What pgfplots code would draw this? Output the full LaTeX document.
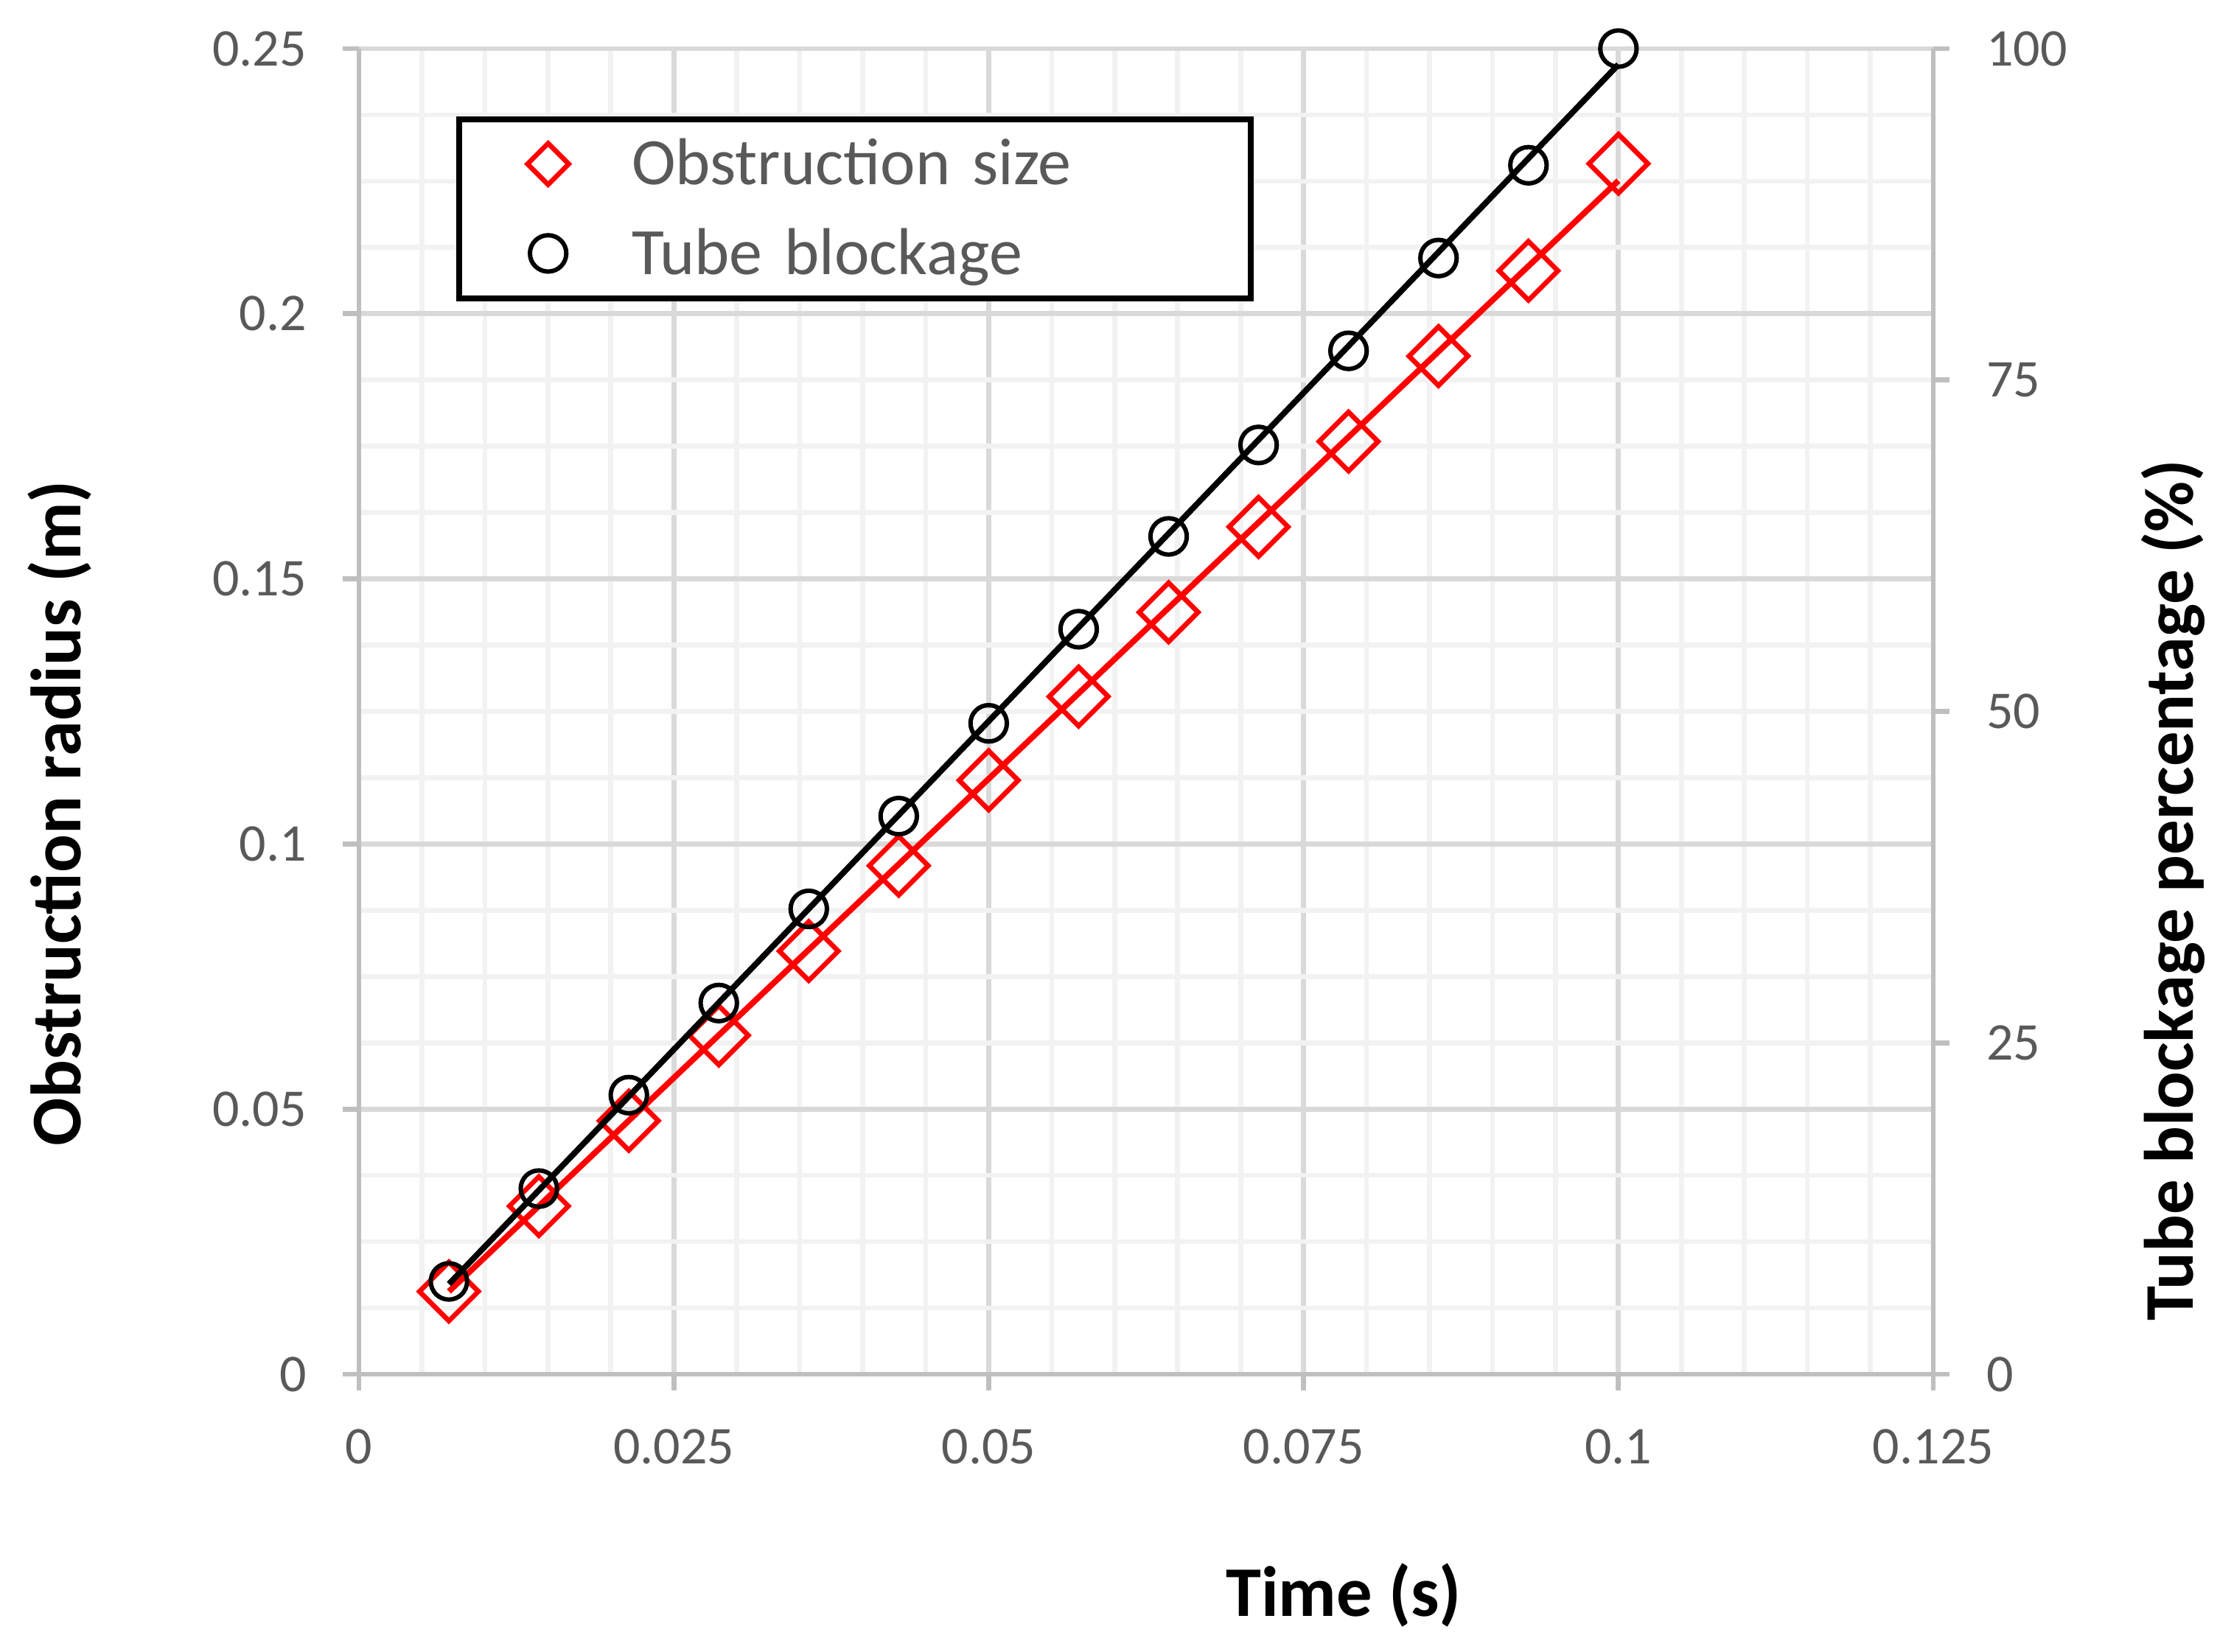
\documentclass[border=0pt]{standalone}
\usepackage{pgfplots}
\pgfplotsset{compat=1.18}
\usepackage{fontspec}
\setmainfont{Carlito}
\definecolor{tickgray}{HTML}{595959}
\definecolor{axisgray}{HTML}{BFBFBF}
\definecolor{majgrid}{HTML}{D9D9D9}
\definecolor{mingrid}{HTML}{F2F2F2}
\pgfplotsset{
  myleg/.style={legend image code/.code={\path (0pt,-8.5pt) (33.9pt,8.5pt); \draw[##1] plot coordinates {(17.5pt,0pt)};}},
}
\begin{document}
\begin{tikzpicture}
\useasboundingbox (0,0) rectangle (454.65pt,336.3pt);
\begin{axis}[
  at={(73.05pt,56.55pt)}, anchor=south west,
  scale only axis, width=320.4pt, height=269.85pt,
  xmin=0, xmax=0.125, ymin=0, ymax=0.25,
  axis x line*=bottom, axis y line*=left,
  axis line style={-, draw=axisgray, line width=1pt},
  xtick={0,0.025,0.05,0.075,0.1,0.125},
  xticklabels={0,0.025,0.05,0.075,0.1,0.125},
  ytick={0,0.05,0.1,0.15,0.2,0.25},
  yticklabels={0,0.05,0.1,0.15,0.2,0.25},
  minor x tick num=4, minor y tick num=3,
  grid=both,
  major grid style={draw=majgrid, line width=1pt},
  minor grid style={draw=mingrid, line width=1pt},
  tick align=outside,
  major tick length=3.3pt, minor tick length=0pt,
  tick style={draw=axisgray, line width=1pt},
  ticklabel style={font=\fontsize{10.8}{13}\selectfont, text=tickgray, inner sep=0pt},
  xticklabel style={anchor=center, yshift=-11.4pt},
  yticklabel style={anchor=east, xshift=-7.2pt},
  clip=false,
  xlabel={Time (s)}, ylabel={Obstruction radius (m)},
  label style={font=\fontsize{14.5}{17}\selectfont\bfseries, text=black},
  xlabel style={at={(axis description cs:0.6255,-0.1668)}, anchor=center},
  ylabel style={at={(axis description cs:-0.1901,0.423)}, anchor=center},
]
\addplot[red, line width=1.2pt, forget plot] coordinates {(0.007143,0.0156) (0.1,0.2251)};
\addplot[only marks, mark=square, mark size=4.24pt, mark options={rotate=45, draw=red, fill=none, line width=1pt}] coordinates {
(0.007143,0.0156) (0.014286,0.0317) (0.021429,0.0478) (0.028571,0.0639)
(0.035714,0.0798) (0.042857,0.0959) (0.05,0.1120) (0.057143,0.1278)
(0.064286,0.1437) (0.071429,0.1598) (0.078571,0.1759) (0.085714,0.1920)
(0.092857,0.2081) (0.1,0.2283)};
\end{axis}
\begin{axis}[
  at={(73.05pt,56.55pt)}, anchor=south west,
  scale only axis, width=320.4pt, height=269.85pt,
  xmin=0, xmax=0.125, ymin=0, ymax=100,
  hide x axis, axis y line*=right,
  axis line style={-, draw=axisgray, line width=1pt},
  ytick={0,25,50,75,100}, yticklabels={0,25,50,75,100},
  tick align=outside, major tick length=3.3pt, minor tick length=0pt,
  tick style={draw=axisgray, line width=1pt},
  yticklabel style={font=\fontsize{10.8}{13}\selectfont, text=tickgray, inner sep=0pt, anchor=west, xshift=7.3pt},
  clip=false,
  ylabel={Tube blockage percentage (\%)},
  ylabel style={at={(axis description cs:1.1522,0.3652)}, anchor=center, font=\fontsize{14.2}{17}\selectfont\bfseries, text=black},
  legend cell align=left,
  legend style={at={(rel axis cs:0.0618,0.9489)}, anchor=north west, draw=black, line width=1.2pt, inner sep=0pt, row sep=0pt, column sep=0pt, fill=white,
    nodes={inner sep=0pt, text height=13.0pt, text depth=4.5pt, text width=126pt, align=left, font=\fontsize{13.5}{16}\selectfont, text=tickgray}},
]
\addlegendimage{only marks, mark=square, mark size=2.97pt, mark options={rotate=45, draw=red, fill=none, line width=1pt}, myleg}
\addlegendentry{Obstruction size}
\addplot[black, line width=1.2pt, forget plot] coordinates {(0.007143,6.8) (0.1,98.8)};
\addplot[only marks, mark=o, mark size=3.7pt, mark options={draw=black, line width=0.9pt}, myleg] coordinates {
(0.007143,7.0) (0.014286,14.0) (0.021429,21.05) (0.028571,28.0)
(0.035714,35.1) (0.042857,42.1) (0.05,49.1) (0.057143,56.2)
(0.064286,63.2) (0.071429,70.1) (0.078571,77.2) (0.085714,84.2)
(0.092857,91.2) (0.1,100)};
\addlegendentry{Tube blockage}
\end{axis}
\end{tikzpicture}
\end{document}
